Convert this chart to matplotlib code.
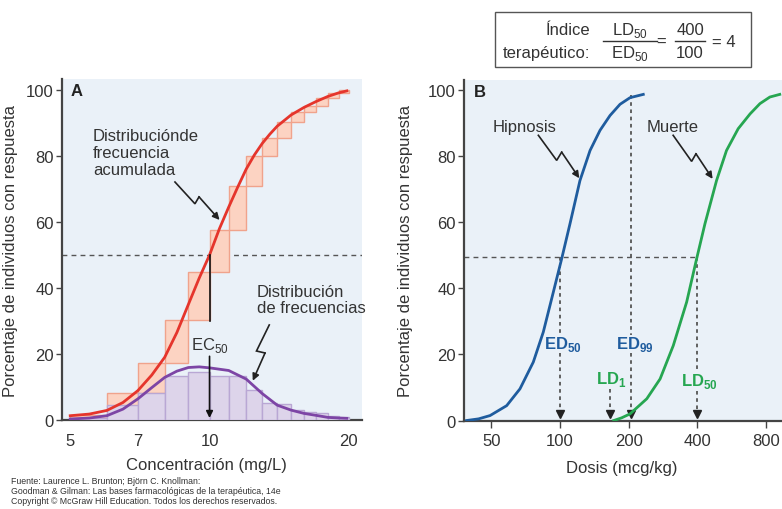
import numpy as np
import matplotlib.pyplot as plt
from matplotlib.patches import Rectangle
from matplotlib.lines import Line2D
from matplotlib.ticker import NullLocator

plt.rcParams['font.family'] = ['Liberation Sans', 'DejaVu Sans']
plt.rcParams['mathtext.fontset'] = 'custom'
plt.rcParams['mathtext.rm'] = 'Liberation Sans'
plt.rcParams['mathtext.bf'] = 'Liberation Sans:bold'

# ---- panel A data (concentration mg/L, % responding) ----
bin_edges = [5, 6, 7, 8, 9, 10, 11, 12, 13, 14, 15, 16, 17, 18, 19, 20]
freq_pct = [0.5, 4.5, 8.1, 13.4, 14.5, 13.2, 13.2, 9.1, 5.3, 4.8, 3.1, 2.3, 2.1, 1.3, 1.0]
cum_pct = [1.5, 8.3, 17.4, 30.4, 44.8, 57.7, 70.8, 79.9, 85.4, 90.2, 93.2, 95.2, 97.5, 99.1, 100.0]

cum_curve_conc = [5.0, 5.5, 6, 6.5, 7, 7.5, 8, 8.5, 9, 9.5, 10, 10.5, 11, 11.5, 12, 12.5, 13,
                  13.5, 14, 15, 16, 17, 18, 19, 19.8]
cum_curve_pct = [1.3, 1.8, 2.9, 5.3, 8.9, 13.6, 19.0, 26.5, 35.0, 43.0, 50.0, 57.9, 64.5, 70.5,
                 76.0, 80.3, 83.8, 86.6, 89.0, 92.4, 94.7, 96.5, 98.0, 99.1, 99.7]
freq_curve_conc = [5.0, 5.5, 6, 6.5, 7, 7.5, 8, 8.5, 9, 9.5, 10, 11, 12, 13, 14, 15, 16, 17, 18, 19, 19.8]
freq_curve_pct = [0.3, 0.6, 1.3, 3.3, 6.4, 9.8, 12.9, 14.8, 15.9, 16.1, 15.8, 15.0, 12.4, 8.0, 4.5,
                  3.0, 2.0, 1.4, 0.8, 0.6, 0.5]
conc_ticks = [5, 7, 10, 20]
ec50 = 10

# ---- panel B data (dose mcg/kg, % responding) ----
hyp_dose = [39, 44, 49.4, 58.4, 66.8, 76.4, 84.5, 93.5, 101.7, 110.6, 122.3, 135.4, 149.7,
            165.6, 183.2, 202.6, 231.6]
hyp_pct = [0.0, 0.5, 1.5, 4.5, 9.6, 17.7, 26.8, 38.9, 49.0, 59.6, 72.7, 81.8, 87.9,
           92.4, 95.8, 97.8, 98.8]
death_dose = [172, 186, 202.6, 240, 274.4, 313.4, 358.7, 396.6, 431.3, 484.8, 536, 603,
              680, 751, 830, 917]
death_pct = [0.0, 0.8, 2.0, 6.6, 12.6, 22.7, 35.9, 49.0, 59.6, 72.7, 81.8, 88.4,
             92.9, 96.0, 98.0, 98.8]
dose_ticks = [50, 100, 200, 400, 800]
ed50, ed99, ld1, ld50 = 100, 205, 165, 400

bg = '#EAF1F8'
txt = '#333333'
red = '#E5352C'
purple = '#7D45A5'
blue = '#1F5C9E'
green = '#26A651'

fig = plt.figure(figsize=(7.82, 5.10), dpi=100)
axA = fig.add_axes([0.0793, 0.1745, 0.3836, 0.6686])
axB = fig.add_axes([0.5934, 0.1735, 0.4066, 0.6686])


def style_axis(ax):
    ax.set_facecolor(bg)
    ax.spines['top'].set_visible(False)
    ax.spines['right'].set_visible(False)
    ax.spines['left'].set_color('#444444')
    ax.spines['bottom'].set_color('#444444')
    ax.spines['left'].set_linewidth(1.6)
    ax.spines['bottom'].set_linewidth(1.6)
    ax.set_ylim(0, 103.3)
    ax.set_yticks([0, 20, 40, 60, 80, 100])
    ax.tick_params(axis='y', length=4, width=1, color='#444444', pad=2, labelsize=12, labelcolor=txt)
    ax.set_ylabel('Porcentaje de individuos con respuesta', fontsize=12, color=txt)


def zigzag(ax, pts, color='#222222'):
    xs = [p[0] for p in pts]
    ys = [p[1] for p in pts]
    ax.plot(xs[:-1], ys[:-1], color=color, lw=1.2, zorder=7, solid_joinstyle='miter')
    ax.annotate('', xy=pts[-1], xytext=pts[-2],
                arrowprops=dict(arrowstyle='-|>', color=color, lw=1.2,
                                shrinkA=0, shrinkB=0, mutation_scale=10), zorder=7)


# ================= panel A =================
style_axis(axA)
axA.set_xscale('log')
axA.set_xlim(4.80, 21.35)

edges = np.array(bin_edges, dtype=float)
widths = np.diff(edges)
cum = np.array(cum_pct)
cum_bottom = np.concatenate([[0], cum[:-1]])

axA.axhline(50, color='#555555', lw=1, dashes=(3.5, 3), zorder=1)
axA.bar(edges[:-1], cum - cum_bottom, width=widths, bottom=cum_bottom, align='edge',
        color='#FCD3C2', edgecolor='#F0A38C', linewidth=1, zorder=2)
axA.bar(edges[:-1], freq_pct, width=widths, align='edge',
        color='#DDD4EA', edgecolor='#B9A7D4', linewidth=1, zorder=3)
axA.plot(freq_curve_conc, freq_curve_pct, color=purple, lw=2, zorder=5, solid_joinstyle='round')
axA.plot(cum_curve_conc, cum_curve_pct, color=red, lw=2, zorder=5, solid_joinstyle='round')

# EC50 arrow
axA.plot([ec50, ec50], [50, 30], color='#111111', lw=1.2, zorder=6)
axA.annotate('', xy=(ec50, 0.6), xytext=(ec50, 19.3),
             arrowprops=dict(arrowstyle='-|>', color='#111111', lw=1.2,
                             shrinkA=0, shrinkB=0, mutation_scale=10), zorder=6)
axA.text(ec50, 23, 'EC$_{50}$', ha='center', va='center', fontsize=12, color=txt, zorder=7)

axA.set_xticks(conc_ticks)
axA.set_xticklabels([str(c) for c in conc_ticks])
axA.xaxis.set_minor_locator(NullLocator())
axA.tick_params(axis='x', length=0, pad=9, labelsize=12, labelcolor=txt)
axA.set_xlabel('Concentración (mg/L)', fontsize=12, color=txt)
axA.xaxis.set_label_coords(0.483, -0.108)
axA.yaxis.set_label_coords(-0.147, 0.5)

axA.text(0.027, 0.965, 'A', transform=axA.transAxes, fontsize=12, fontweight='bold',
         color='#222222', va='center', ha='left')
axA.text(0.103, 0.855, 'Distribuciónde\nfrecuencia\nacumulada', transform=axA.transAxes,
         fontsize=12, color=txt, va='top', ha='left', linespacing=1.15)
axA.text(0.65, 0.40, 'Distribución\nde frecuencias', transform=axA.transAxes,
         fontsize=12, color=txt, va='top', ha='left', linespacing=1.15)
zigzag(axA, [(8.42, 72.1), (9.30, 65.5), (9.49, 67.6), (10.51, 60.6)])
zigzag(axA, [(13.46, 28.8), (12.63, 20.9), (13.18, 20.3), (12.40, 11.9)])

# ================= panel B =================
style_axis(axB)
axB.set_xscale('log')
axB.set_xlim(38, 938)

axB.plot([38, ld50], [49.5, 49.5], color='#555555', lw=1, dashes=(3.5, 3), zorder=1)
dot = dict(color='#555555', lw=1.3, dashes=(2, 2), zorder=2)
axB.plot([ed50, ed50], [49.5, 26], **dot)
axB.plot([ed50, ed50], [20.5, 3], **dot)
axB.plot([ed99, ed99], [98.5, 26], **dot)
axB.plot([ed99, ed99], [20.5, 3], **dot)
axB.plot([ld1, ld1], [9.5, 3], **dot)
axB.plot([ld50, ld50], [49.5, 15.5], **dot)
axB.plot([ld50, ld50], [9, 3], **dot)
axB.plot([ed50, ed99, ld1, ld50], [2.0] * 4, linestyle='none', marker='v',
         markersize=6, color='#222222', zorder=4)

axB.plot(hyp_dose, hyp_pct, color=blue, lw=2, zorder=5, solid_joinstyle='round')
axB.plot(death_dose, death_pct, color=green, lw=2, zorder=5, solid_joinstyle='round')

axB.text(103, 23.2, 'ED$_\\mathbf{50}$', ha='center', va='center', fontsize=12,
         fontweight='bold', color=blue)
axB.text(213, 23.2, 'ED$_\\mathbf{99}$', ha='center', va='center', fontsize=12,
         fontweight='bold', color=blue)
axB.text(168, 12.6, 'LD$_\\mathbf{1}$', ha='center', va='center', fontsize=12,
         fontweight='bold', color=green)
axB.text(410, 12.1, 'LD$_\\mathbf{50}$', ha='center', va='center', fontsize=12,
         fontweight='bold', color=green)

axB.text(70.3, 89.1, 'Hipnosis', ha='center', va='center', fontsize=12, color=txt)
axB.text(312, 89.1, 'Muerte', ha='center', va='center', fontsize=12, color=txt)
zigzag(axB, [(80.4, 86.4), (96.7, 78.8), (101.7, 81.3), (121.5, 73.4)])
zigzag(axB, [(313, 86.4), (377, 78.5), (394, 80.8), (466, 73.2)])

axB.text(0.032, 0.965, 'B', transform=axB.transAxes, fontsize=12, fontweight='bold',
         color='#222222', va='center', ha='left')

axB.set_xticks(dose_ticks)
axB.set_xticklabels([str(d) for d in dose_ticks])
axB.xaxis.set_minor_locator(NullLocator())
axB.tick_params(axis='x', length=5, width=1, color='#444444', pad=4, labelsize=12, labelcolor=txt)
axB.set_xlabel('Dosis (mcg/kg)', fontsize=12, color=txt)
axB.xaxis.set_label_coords(0.497, -0.115)
axB.yaxis.set_label_coords(-0.160, 0.5)

# ---- therapeutic index box ----
fig.add_artist(Rectangle((0.633, 0.8667), 0.327, 0.108, transform=fig.transFigure,
                         fill=False, edgecolor='#555555', linewidth=1))
fig.text(0.7545, 0.941, 'Índice', ha='right', va='center', fontsize=12, color=txt)
fig.text(0.7545, 0.896, 'terapéutico:', ha='right', va='center', fontsize=12, color=txt)
fig.text(0.8056, 0.941, 'LD$_{50}$', ha='center', va='center', fontsize=12, color=txt)
fig.text(0.8056, 0.896, 'ED$_{50}$', ha='center', va='center', fontsize=12, color=txt)
fig.add_artist(Line2D([0.771, 0.840], [0.9176, 0.9176], transform=fig.transFigure,
                      color=txt, lw=1))
fig.text(0.845, 0.9176, '=', ha='center', va='center', fontsize=12, color=txt)
fig.text(0.8824, 0.941, '400', ha='center', va='center', fontsize=12, color=txt)
fig.text(0.8824, 0.896, '100', ha='center', va='center', fontsize=12, color=txt)
fig.add_artist(Line2D([0.863, 0.9015], [0.9176, 0.9176], transform=fig.transFigure,
                      color=txt, lw=1))
fig.text(0.9105, 0.9176, '= 4', ha='left', va='center', fontsize=12, color=txt)

# ---- source footer ----
fig.text(0.014, 0.064,
         'Fuente: Laurence L. Brunton; Björn C. Knollman:\n'
         'Goodman & Gilman: Las bases farmacológicas de la terapéutica, 14e\n'
         'Copyright © McGraw Hill Education. Todos los derechos reservados.',
         ha='left', va='top', fontsize=6.3, color=txt, linespacing=1.1)

fig.savefig('out.png', dpi=100)
